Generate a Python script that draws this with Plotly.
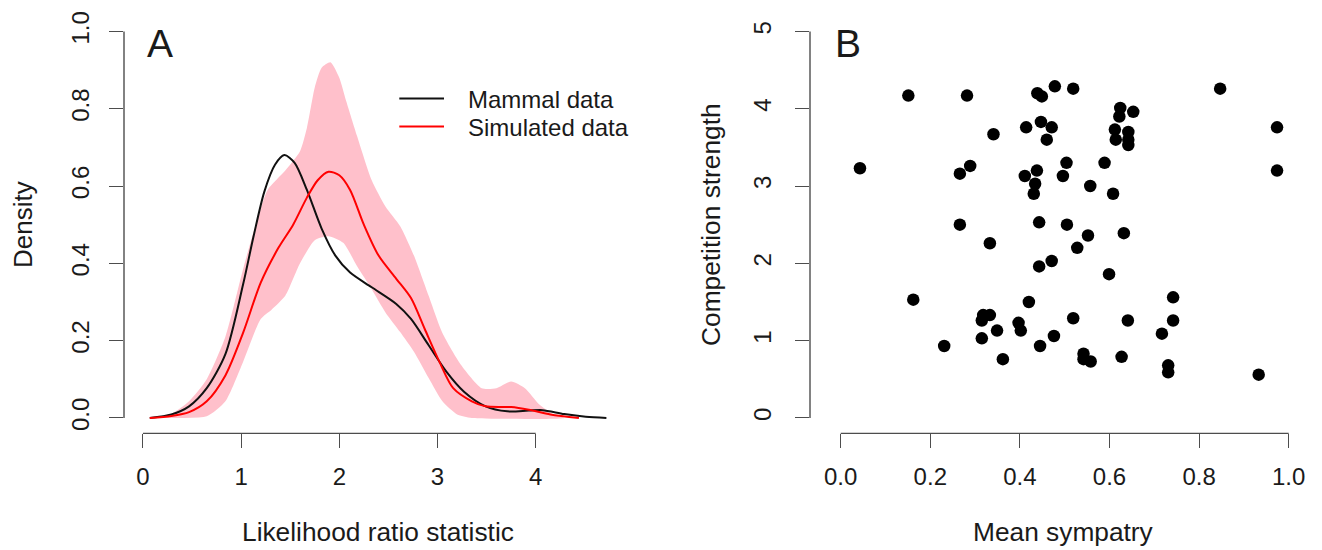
import plotly.graph_objects as go

W, H = 1322, 550

# ---------------- Panel A data (density curves) ----------------
mammal_x = [0.07, 0.29, 0.47, 0.65, 0.84, 1.02, 1.127, 1.236, 1.345, 1.44, 1.545, 1.67, 1.82,
            1.96, 2.11, 2.33, 2.58, 2.73, 2.91, 3.09, 3.27, 3.49, 3.71, 3.93, 4.07, 4.29, 4.51, 4.72]
mammal_y = [0.0, 0.009, 0.03, 0.077, 0.165, 0.345, 0.47, 0.585, 0.655, 0.68, 0.66, 0.59, 0.49,
            0.42, 0.376, 0.338, 0.295, 0.256, 0.188, 0.12, 0.068, 0.03, 0.017, 0.019, 0.02, 0.01,
            0.003, 0.0]

sim_x = [0.07, 0.29, 0.47, 0.65, 0.84, 1.02, 1.2, 1.38, 1.53, 1.67, 1.78, 1.89, 2.0, 2.11, 2.25,
         2.4, 2.58, 2.73, 2.87, 3.02, 3.16, 3.35, 3.49, 3.75, 3.93, 4.15, 4.44]
sim_y = [0.0, 0.005, 0.015, 0.043, 0.11, 0.22, 0.35, 0.44, 0.50, 0.57, 0.615, 0.637, 0.628, 0.59,
         0.50, 0.42, 0.36, 0.31, 0.23, 0.145, 0.077, 0.043, 0.03, 0.028, 0.021, 0.009, 0.0]

band_upper_x = [0.07, 0.3, 0.47, 0.65, 0.84, 1.02, 1.16, 1.27, 1.45, 1.6, 1.67, 1.75, 1.82, 1.91,
                2.0, 2.07, 2.18, 2.33, 2.47, 2.62, 2.76, 2.91, 3.05, 3.24, 3.45, 3.6, 3.75, 3.89,
                4.04, 4.18, 4.29]
band_upper_y = [0.0, 0.012, 0.043, 0.10, 0.21, 0.385, 0.51, 0.59, 0.64, 0.69, 0.75, 0.855, 0.906,
                0.92, 0.88, 0.82, 0.73, 0.615, 0.547, 0.496, 0.42, 0.316, 0.22, 0.137, 0.077,
                0.077, 0.094, 0.077, 0.034, 0.009, 0.0]
band_lower_x = [0.29, 0.65, 0.84, 1.02, 1.2, 1.31, 1.45, 1.6, 1.75, 1.89, 2.04, 2.18, 2.33, 2.47,
                2.62, 2.76, 2.91, 3.05, 3.2, 3.35]
band_lower_y = [0.0, 0.004, 0.043, 0.145, 0.256, 0.28, 0.316, 0.40, 0.46, 0.47, 0.453, 0.393,
                0.333, 0.273, 0.222, 0.171, 0.103, 0.043, 0.009, 0.0]

# ---------------- Panel B data (scatter) ----------------
mean_sympatry = [0.151, 0.282, 0.439, 0.449, 0.478, 0.519, 0.847, 0.624, 0.622, 0.653, 0.974,
                 0.447, 0.414, 0.471, 0.341, 0.460, 0.612, 0.642, 0.614, 0.642, 0.642, 0.043,
                 0.289, 0.266, 0.974, 0.504, 0.589, 0.438, 0.411, 0.496, 0.434, 0.431, 0.557,
                 0.608, 0.266, 0.443, 0.505, 0.632, 0.552, 0.333, 0.528, 0.471, 0.443, 0.599,
                 0.162, 0.742, 0.420, 0.318, 0.333, 0.315, 0.519, 0.641, 0.742, 0.397, 0.349,
                 0.402, 0.717, 0.476, 0.315, 0.231, 0.445, 0.542, 0.542, 0.558, 0.627, 0.362,
                 0.731, 0.731, 0.933]
competition_strength = [4.17, 4.17, 4.20, 4.16, 4.29, 4.26, 4.26, 4.01, 3.90, 3.96, 3.76, 3.83,
                        3.76, 3.76, 3.67, 3.60, 3.73, 3.70, 3.60, 3.60, 3.53, 3.23, 3.26, 3.16,
                        3.20, 3.30, 3.30, 3.20, 3.13, 3.13, 3.03, 2.90, 3.00, 2.90, 2.50, 2.53,
                        2.50, 2.39, 2.36, 2.26, 2.20, 2.03, 1.96, 1.86, 1.53, 1.56, 1.50, 1.33,
                        1.33, 1.26, 1.29, 1.26, 1.26, 1.23, 1.13, 1.13, 1.09, 1.06, 1.03, 0.93,
                        0.93, 0.83, 0.76, 0.73, 0.79, 0.76, 0.68, 0.59, 0.56]

# ---------------- Ticks / labels ----------------
a_x_ticks = [0, 1, 2, 3, 4]
a_y_ticks = [0.0, 0.2, 0.4, 0.6, 0.8, 1.0]
a_y_labels = ["0.0", "0.2", "0.4", "0.6", "0.8", "1.0"]
b_x_ticks = [0.0, 0.2, 0.4, 0.6, 0.8, 1.0]
b_x_labels = ["0.0", "0.2", "0.4", "0.6", "0.8", "1.0"]
b_y_ticks = [0, 1, 2, 3, 4, 5]
legend_names = ["Mammal data", "Simulated data"]
legend_colors = ["#111111", "#ff0000"]

FONT = "Liberation Sans, Arial, Helvetica, sans-serif"
TXT = "#1a1a1a"
AX = "#4d4d4d"


def fx(px):
    return px / W


def fy(py):
    return 1 - py / H


fig = go.Figure()

# pink envelope of simulated densities
fig.add_trace(go.Scatter(
    x=band_upper_x + band_lower_x[::-1], y=band_upper_y + band_lower_y[::-1],
    fill="toself", fillcolor="#FFC0CB", line=dict(width=0, shape="spline", smoothing=0.6),
    mode="lines", showlegend=False, hoverinfo="skip", xaxis="x", yaxis="y"))

fig.add_trace(go.Scatter(
    x=mammal_x, y=mammal_y, mode="lines", name=legend_names[0], showlegend=False,
    line=dict(color=legend_colors[0], width=2, shape="spline", smoothing=0.8),
    xaxis="x", yaxis="y"))
fig.add_trace(go.Scatter(
    x=sim_x, y=sim_y, mode="lines", name=legend_names[1], showlegend=False,
    line=dict(color=legend_colors[1], width=2, shape="spline", smoothing=0.8),
    xaxis="x", yaxis="y"))

fig.add_trace(go.Scatter(
    x=mean_sympatry, y=competition_strength, mode="markers", showlegend=False,
    marker=dict(color="black", size=12.5, line=dict(width=0)), xaxis="x2", yaxis="y2"))

# plot regions (pixel based, R-style 4% padded regions)
A_left, A_right = 124.0, 631.0
B_left, B_right = 810.0, 1317.0
top, bottom = 11.1, 432.3
a_unit = 98.2            # px per x unit in panel A
a_zero = 142.9           # px of x=0 in panel A
b_unit = 448.0
b_zero = 840.7

common = dict(showgrid=False, zeroline=False, showline=False, ticks="outside", ticklen=14,
              tickwidth=1.4, tickcolor=AX, tickfont=dict(family=FONT, size=24, color=TXT))

fig.update_layout(
    width=W, height=H, margin=dict(l=0, r=0, t=0, b=0),
    paper_bgcolor="white", plot_bgcolor="white", showlegend=False,
    xaxis=dict(domain=[fx(A_left), fx(A_right)],
               range=[(A_left - a_zero) / a_unit, (A_right - a_zero) / a_unit],
               tickvals=a_x_ticks, ticklabelstandoff=8, anchor="y", **common),
    yaxis=dict(domain=[fy(bottom), fy(top)], range=[-0.04, 1.04], tickvals=a_y_ticks,
               ticktext=a_y_labels, tickangle=-90, ticklabelstandoff=10, anchor="x", **common),
    xaxis2=dict(domain=[fx(B_left), fx(B_right)],
                range=[(B_left - b_zero) / b_unit, (B_right - b_zero) / b_unit],
                tickvals=b_x_ticks, ticktext=b_x_labels, ticklabelstandoff=8, anchor="y2",
                **common),
    yaxis2=dict(domain=[fy(bottom), fy(top)], range=[-0.2, 5.2], tickvals=b_y_ticks,
                tickangle=-90, ticklabelstandoff=14, anchor="x2", **common),
)

# detached axis lines spanning the tick range (R style)
line = dict(color=AX, width=1.4)
fig.add_shape(type="line", xref="x", yref="paper", x0=a_x_ticks[0], x1=a_x_ticks[-1],
              y0=fy(bottom), y1=fy(bottom), line=line)
fig.add_shape(type="line", xref="paper", yref="y", x0=fx(A_left), x1=fx(A_left),
              y0=a_y_ticks[0], y1=a_y_ticks[-1], line=line)
fig.add_shape(type="line", xref="x2", yref="paper", x0=b_x_ticks[0], x1=b_x_ticks[-1],
              y0=fy(bottom), y1=fy(bottom), line=line)
fig.add_shape(type="line", xref="paper", yref="y2", x0=fx(B_left), x1=fx(B_left),
              y0=b_y_ticks[0], y1=b_y_ticks[-1], line=line)


def label(text, px, py, size, angle=0, anchor="center"):
    fig.add_annotation(text=text, x=fx(px), y=fy(py), xref="paper", yref="paper",
                       xanchor=anchor, yanchor="middle", showarrow=False, textangle=angle,
                       font=dict(family=FONT, size=size, color=TXT))


# legend (R-style, inside panel A)
for i, (name, col) in enumerate(zip(legend_names, legend_colors)):
    ly = 94.3 + i * 28.4
    fig.add_shape(type="line", xref="paper", yref="paper", x0=fx(399.3), x1=fx(444),
                  y0=fy(ly), y1=fy(ly), line=dict(color=col, width=2))
    label(name, 466.0, ly + 1, 24, anchor="left")

label("Density", 23, 222, 26, -90)
label("Likelihood ratio statistic", 377.5, 532, 26.3)
label("Competition strength", 711, 222, 26.3, -90)
label("Mean sympatry", 1063.3, 532, 26.3)
label("A", 160, 39, 39)
label("B", 848, 39, 39)

fig.write_html("out.html")
